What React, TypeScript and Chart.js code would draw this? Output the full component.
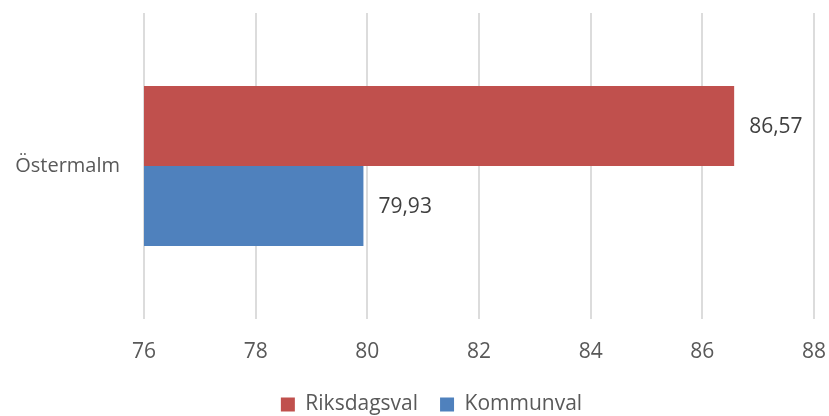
import React, { useEffect, useRef } from "react";
import { Chart, registerables } from "chart.js";

Chart.register(...registerables);

const categories = ["Östermalm"];
const riksdagsval = [86.57];
const kommunval = [79.93];
const seriesNames = ["Riksdagsval", "Kommunval"];
const xMin = 76;
const xMax = 88;
const xStep = 2;

const FONT = "'Open Sans', 'Liberation Sans', sans-serif";
const FS = 21;

const dataLabelPlugin = {
  id: "dataLabels",
  afterDatasetsDraw(chart: any) {
    const ctx = chart.ctx;
    ctx.save();
    ctx.font = `${FS}px ${FONT}`;
    ctx.fillStyle = "#404040";
    ctx.textAlign = "left";
    ctx.textBaseline = "middle";
    chart.data.datasets.forEach((ds: any, di: number) => {
      const meta = chart.getDatasetMeta(di);
      meta.data.forEach((bar: any, i: number) => {
        const v = ds.data[i] as number;
        const txt = v.toFixed(2).replace(".", ",");
        ctx.fillText(txt, bar.x + 15, bar.y + 1);
      });
    });
    ctx.restore();
  },
};

const legendShiftPlugin = {
  id: "legendShift",
  afterLayout(chart: any) {
    const lg = chart.legend;
    if (!lg) return;
    lg.top += 9;
    lg.bottom += 9;
    lg.left += 18;
    lg.right += 18;
  },
};

export default function App() {
  const ref = useRef<HTMLCanvasElement | null>(null);
  useEffect(() => {
    if (!ref.current) return;
    const chart = new Chart(ref.current, {
      type: "bar",
      data: {
        labels: categories,
        datasets: [
          {
            label: seriesNames[0],
            data: riksdagsval,
            backgroundColor: "#C0504D",
            categoryPercentage: 0.523,
            barPercentage: 1,
          },
          {
            label: seriesNames[1],
            data: kommunval,
            backgroundColor: "#4F81BD",
            categoryPercentage: 0.523,
            barPercentage: 1,
          },
        ],
      },
      options: {
        indexAxis: "y",
        animation: false,
        responsive: true,
        maintainAspectRatio: false,
        layout: { padding: { left: 13, right: 15, top: 13, bottom: 0 } },
        scales: {
          x: {
            min: xMin,
            max: xMax,
            ticks: {
              stepSize: xStep,
              color: "#595959",
              font: { family: FONT, size: FS },
              padding: 20,
            },
            grid: { color: "#DCDCDC", lineWidth: 2, drawTicks: false },
            border: { display: false },
            afterFit: (scale: any) => {
              scale.height = 44;
              scale.paddingLeft = 0;
              scale.paddingRight = 0;
            },
          },
          y: {
            ticks: {
              color: "#595959",
              font: { family: FONT, size: 20 },
              padding: 24,
            },
            grid: { display: false, drawTicks: false },
            border: { display: false },
            afterFit: (scale: any) => {
              scale.width = 131;
              scale.paddingTop = 0;
              scale.paddingBottom = 0;
            },
          },
        },
        plugins: {
          legend: {
            position: "bottom",
            labels: {
              color: "#595959",
              font: { family: FONT, size: FS },
              boxWidth: 14,
              boxHeight: 14,
              padding: 22,
            },
          },
          tooltip: { enabled: false },
        },
      },
      plugins: [dataLabelPlugin, legendShiftPlugin],
    });
    return () => chart.destroy();
  }, []);
  return (
    <div style={{ position: "absolute", left: 0, top: 0, width: 829, height: 416 }}>
      <canvas ref={ref} />
    </div>
  );
}
